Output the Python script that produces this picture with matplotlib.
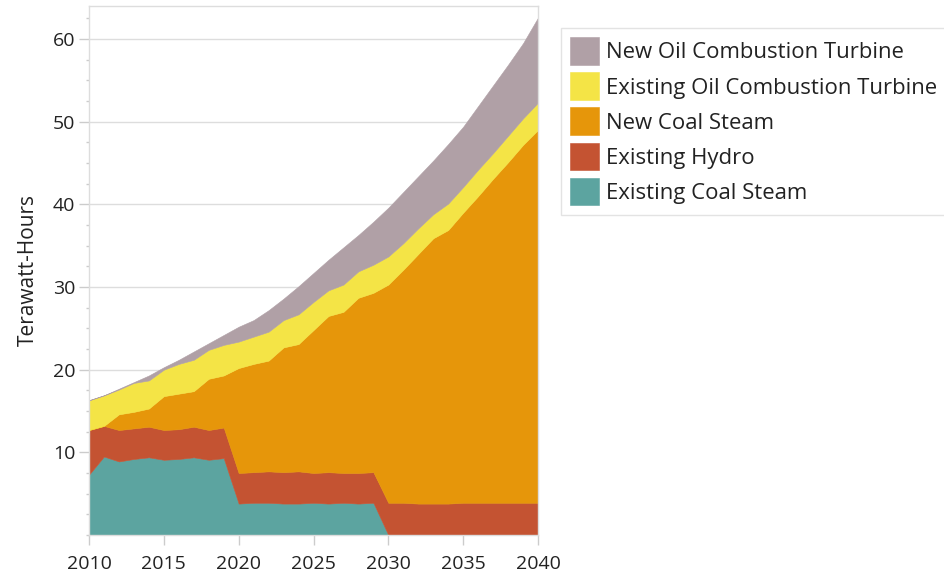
import matplotlib.pyplot as plt
import numpy as np
from matplotlib.ticker import MultipleLocator

plt.rcParams['font.family'] = ['Open Sans', 'DejaVu Sans']

years = list(range(2010, 2041))

# Terawatt-hours per resource
existing_coal_steam = [7.3, 9.5, 8.9, 9.2, 9.4, 9.1, 9.2, 9.4, 9.1, 9.3,
                       3.8, 3.9, 3.9, 3.8, 3.8, 3.9, 3.8, 3.9, 3.8, 3.9,
                       0, 0, 0, 0, 0, 0, 0, 0, 0, 0, 0]
existing_hydro = [5.4, 3.7, 3.8, 3.7, 3.7, 3.6, 3.6, 3.7, 3.6, 3.7,
                  3.7, 3.7, 3.8, 3.8, 3.9, 3.6, 3.8, 3.6, 3.7, 3.7,
                  3.9, 3.9, 3.8, 3.8, 3.8, 3.9, 3.9, 3.9, 3.9, 3.9, 3.9]
new_coal_steam = [0, 0, 1.9, 2.0, 2.2, 4.1, 4.3, 4.3, 6.2, 6.3,
                  12.7, 13.1, 13.4, 15.1, 15.4, 17.3, 18.9, 19.5, 21.2, 21.7,
                  26.4, 28.2, 30.2, 32.1, 33.1, 35.1, 37.1, 39.2, 41.2, 43.3, 45.1]
existing_oil_ct = [3.6, 3.7, 3.0, 3.5, 3.4, 3.2, 3.6, 3.8, 3.5, 3.7,
                   3.2, 3.3, 3.5, 3.3, 3.6, 3.4, 3.1, 3.3, 3.2, 3.4,
                   3.4, 3.2, 3.1, 2.9, 3.2, 3.1, 3.2, 3.1, 3.2, 3.2, 3.3]
new_oil_ct = [0, 0, 0.1, 0.1, 0.6, 0.3, 0.5, 1.0, 0.8, 1.2,
              1.8, 2.0, 2.6, 2.6, 3.4, 3.5, 3.7, 4.5, 4.4, 5.2,
              5.9, 6.2, 6.3, 6.5, 7.2, 7.3, 7.7, 8.2, 8.6, 9.1, 10.3]

labels = ['Existing Coal Steam', 'Existing Hydro', 'New Coal Steam',
          'Existing Oil Combustion Turbine', 'New Oil Combustion Turbine']
colors = ['#5ca4a0', '#c45332', '#e6960a', '#f4e446', '#b0a0a6']

fig = plt.figure(figsize=(9.45, 5.77), dpi=100)
ax = fig.add_axes([89/945, 1 - 535/577, (538 - 89)/945, (535 - 6)/577])

polys = ax.stackplot(years, existing_coal_steam, existing_hydro, new_coal_steam,
                     existing_oil_ct, new_oil_ct, colors=colors, labels=labels,
                     linewidth=0.4)
for p, c in zip(polys, colors):
    p.set_edgecolor(c)

ax.set_xlim(2010, 2040)
ax.set_ylim(0, 64)
ax.set_xticks(range(2010, 2041, 5))
ax.set_yticks(range(10, 61, 10))
ax.yaxis.set_minor_locator(MultipleLocator(2.5))

ax.grid(axis='y', color='#dddddd', linewidth=1)
ax.set_axisbelow(True)
for s in ax.spines.values():
    s.set_color('#dddddd')
    s.set_linewidth(1)

ax.tick_params(axis='both', which='major', length=7, width=1, color='#cccccc',
               labelsize=14, labelcolor='#222222', pad=3)
ax.tick_params(axis='x', which='major', pad=7.5)
ax.tick_params(axis='y', which='minor', length=2, width=1, color='#cccccc')
ax.set_ylabel('Terawatt-Hours', fontsize=15, color='#222222', labelpad=10)

handles, labs = ax.get_legend_handles_labels()
leg = fig.legend(handles[::-1], labs[::-1], loc='upper left',
                 bbox_to_anchor=(561/945, 1 - 28/577), frameon=True,
                 fontsize=15.9, handlelength=1.31, handleheight=1.56,
                 handletextpad=0.3, labelspacing=0.33, borderpad=0.42,
                 borderaxespad=0, fancybox=False)
leg.get_frame().set_edgecolor('#dddddd')
leg.get_frame().set_linewidth(1)
for t in leg.get_texts():
    t.set_color('#222222')

fig.savefig('out.png', dpi=100)
